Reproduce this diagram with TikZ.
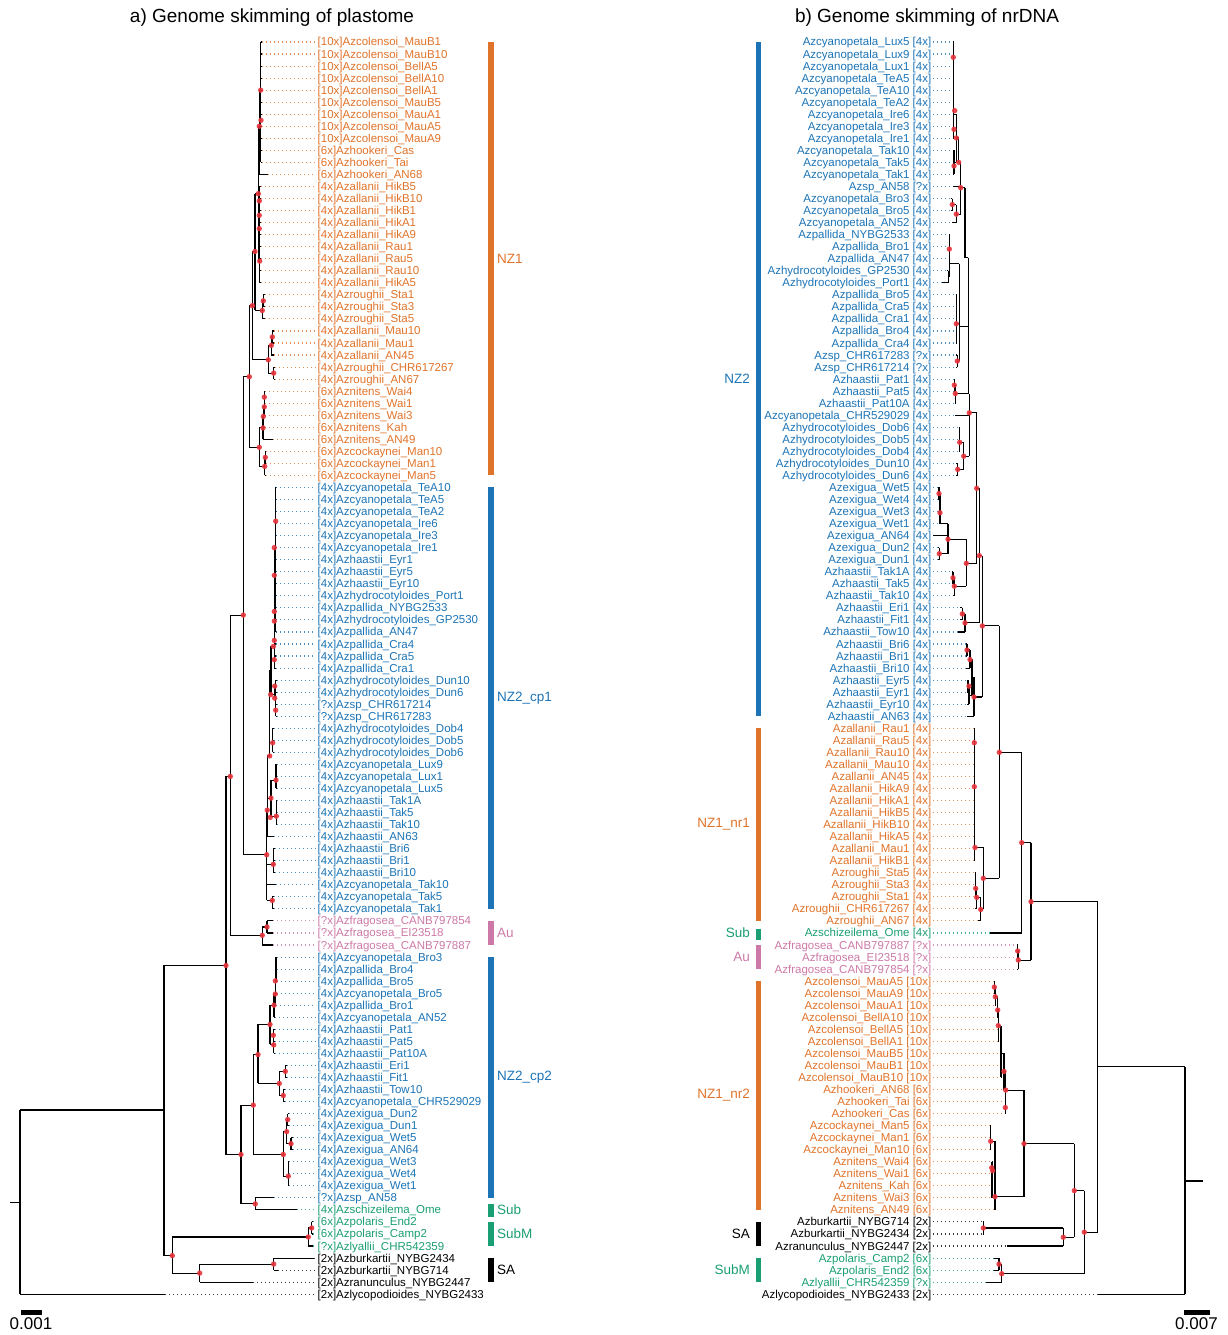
\documentclass[tikz,border=0pt]{standalone}
\usepackage{fontspec}
\setmainfont{Liberation Sans}
\definecolor{cO}{HTML}{E0732A}
\definecolor{cB}{HTML}{1C74B6}
\definecolor{cG}{HTML}{1A9E73}
\definecolor{cP}{HTML}{CC79A7}
\definecolor{cK}{HTML}{000000}
\definecolor{dotc}{HTML}{E8323A}
\tikzset{
  tr/.style={line width=1.1pt,black,line cap=square},
  lead/.style={line width=1.1pt,dash pattern=on 1.1pt off 2.9pt,draw opacity=0.8},
  lab/.style={inner sep=0pt,font=\fontsize{11.5}{12}\selectfont,text height=8.2pt,text depth=0.2pt},
  grp/.style={inner sep=0pt,font=\fontsize{13.5}{14}\selectfont},
  ttl/.style={inner sep=0pt,font=\fontsize{19}{21}\selectfont},
  scl/.style={inner sep=0pt,font=\fontsize{17}{19}\selectfont},
}
\newcommand\VL[3]{\draw[tr] (#1,#2) -- (#1,#3);}
\newcommand\HL[3]{\draw[tr] (#1,#3) -- (#2,#3);}
\newcommand\LLf[5]{\draw[tr] (#2,#1) -- (#3,#1); \draw[lead,draw=#5] (#3,#1) -- (316,#1); \node[lab,text=#5,anchor=west] (la#1) at (317.5,#1) {#4};}
\newcommand\RLf[5]{\draw[tr] (#2,#1) -- (#3,#1); \draw[lead,draw=#5] (933,#1) -- (#3,#1); \node[lab,text=#5,anchor=east] (ra#1) at (931.5,#1) {#4};}
\newcommand\BarL[5]{\fill[#4] (488,#1) rectangle (493.5,#2); \node[grp,text=#4,anchor=west] (gl#1) at (497,#3) {#5};}
\newcommand\BarR[5]{\fill[#4] (755.5,#1) rectangle (761,#2); \node[grp,text=#4,anchor=east] (gr#1) at (750,#3) {#5};}
\begin{document}
\begin{tikzpicture}[x=1pt,y=-12.04pt]
\useasboundingbox (0,-3.4884) rectangle (1227,107.392);
% titles
\node[ttl,anchor=base] (t1) at (272,-1.62) {a) Genome skimming of plastome};
\node[ttl,anchor=base] (t2) at (927,-1.62) {b) Genome skimming of nrDNA};
% ===================== LEFT TREE =====================
\HL{10}{20}{96.35}
\VL{20}{88.7}{104}
\HL{20}{164}{88.7}
\VL{164}{76.7}{100.8}
\HL{164}{226}{76.7}\HL{164}{172.3}{100.8}
\VL{226}{61}{92.4}
\HL{226}{230.3}{61}\HL{226}{241}{92.4}
\VL{230.3}{47.6}{74.2}
\HL{230.3}{243.3}{47.6}\HL{230.3}{262.3}{74.2}
\VL{243.3}{27.8}{67.5}
\HL{243.3}{249.3}{27.8}\HL{243.3}{266.7}{67.5}
\VL{249.3}{21.9}{33.66}
\HL{249.3}{252.3}{21.9}\HL{249.3}{259.3}{33.66}
\VL{252.3}{17.4}{26.4}
\HL{252.3}{255}{17.4}\HL{252.3}{268.3}{26.4}
\VL{255}{12.6}{22.3}
\HL{255}{258.3}{12.6}\HL{255}{262.3}{22.3}
\VL{258.3}{7}{18.2}
\HL{258.3}{259.3}{7}\HL{258.3}{259.5}{18.2}
\VL{259.3}{4}{11}\HL{259.3}{260.7}{4}
\VL{260.7}{0}{10}
\VL{259.5}{12}{20}
\VL{262.3}{21.5}{23}\HL{262.3}{263.3}{21.5}\VL{263.3}{21}{22}
\VL{268.3}{25.2}{27.5}\HL{268.3}{271.3}{25.2}\HL{268.3}{273.7}{27.5}
\VL{271.3}{24.5}{26}\HL{271.3}{272.3}{24.5}\VL{272.3}{24}{25}
\VL{273.7}{27}{28}
\VL{259.3}{32.05}{35.25}\HL{259.3}{263}{32.05}\HL{259.3}{264.7}{35.25}
\VL{263}{31.1}{33}\HL{263}{263.3}{31.1}
\VL{263.3}{30.3}{32}\HL{263.3}{264.3}{30.3}
\VL{264.3}{29}{31}
\VL{264.7}{34.5}{36}\HL{264.7}{265.3}{34.5}\VL{265.3}{34}{35}
% Au
\VL{262.3}{73.5}{75}\HL{262.3}{267}{73.5}\VL{267}{73}{74}
% NZ2_cp1
\VL{266.7}{63.8}{71.3}
\VL{275.7}{37}{49}
\VL{274.3}{42}{52}\HL{274.3}{275.7}{45.5}
\HL{271}{274.3}{50.2}
\VL{271}{50.2}{54.2}\HL{271}{274.7}{54.2}\VL{274.7}{53.5}{54.5}
\HL{274.7}{275.7}{53.5}\HL{274.7}{275.7}{54.5}
\VL{275.7}{53}{56}
\HL{269.7}{271}{52.2}\VL{269.7}{52.2}{59.3}
\HL{269.7}{272.7}{58.2}\VL{272.7}{57}{59}
\HL{267.3}{269.7}{59.3}\VL{267.3}{59.3}{66}
\HL{267.3}{271}{62.8}\VL{271}{61.3}{64.4}
\HL{271}{276}{61.3}\VL{276}{60}{62}
\HL{271}{276.3}{64.3}\VL{276.3}{63}{65}
\HL{266.7}{273.3}{68.3}\VL{273.3}{67}{69}
\HL{266.7}{272.3}{71.3}\VL{272.3}{71}{72}
% NZ2_cp2
\VL{241}{88.3}{96.5}\HL{241}{253.3}{88.3}\HL{241}{255.3}{96.5}
\VL{255.3}{96}{97}
\VL{253.3}{84.1}{92.4}\HL{253.3}{258}{84.1}\HL{253.3}{283.3}{92.4}
\VL{258}{81.6}{86.5}\HL{258}{270}{81.6}\HL{258}{279.3}{86.5}
\VL{270}{80}{83.25}\HL{270}{274}{80}\HL{270}{273.7}{83.25}
\VL{274}{79.07}{81}\HL{274}{275.3}{79.07}
\VL{275.3}{77}{80}\HL{275.3}{276}{77}\VL{276}{76}{78}
\VL{273.7}{82.5}{84}\VL{273.3}{82}{83}
\VL{279.3}{85.5}{87.5}\HL{279.3}{285.3}{85.5}\HL{279.3}{283.3}{87.5}
\VL{285.3}{85}{86}\VL{283.3}{87}{88}
\VL{283.3}{90.5}{94.25}\HL{283.3}{286.7}{90.5}\HL{283.3}{288.3}{94.25}
\VL{286.7}{89.5}{91.5}\HL{286.7}{287.7}{89.5}\HL{286.7}{291}{91.5}
\VL{287.7}{89}{90}\VL{291}{91}{92}\VL{288.3}{93}{95}
% SubM / SA
\VL{172.3}{99.25}{102.25}\HL{172.3}{308.3}{99.25}\HL{172.3}{199.7}{102.25}
\VL{308.3}{98.5}{100}\HL{308.3}{311.7}{98.5}\VL{311.7}{98}{99}
\VL{199.7}{101.5}{103}\HL{199.7}{273.7}{101.5}\VL{273.7}{101}{102}
% left leaves
\LLf{0}{260.7}{261.5}{[10x]Azcolensoi\_MauB1}{cO}
\LLf{1}{260.7}{261.5}{[10x]Azcolensoi\_MauB10}{cO}
\LLf{2}{260.7}{261.5}{[10x]Azcolensoi\_BellA5}{cO}
\LLf{3}{260.7}{261.5}{[10x]Azcolensoi\_BellA10}{cO}
\LLf{4}{260.7}{261.5}{[10x]Azcolensoi\_BellA1}{cO}
\LLf{5}{260.7}{261.5}{[10x]Azcolensoi\_MauB5}{cO}
\LLf{6}{260.7}{261.5}{[10x]Azcolensoi\_MauA1}{cO}
\LLf{7}{260.7}{261.5}{[10x]Azcolensoi\_MauA5}{cO}
\LLf{8}{260.7}{261.5}{[10x]Azcolensoi\_MauA9}{cO}
\LLf{9}{260.7}{261.5}{[6x]Azhookeri\_Cas}{cO}
\LLf{10}{260.7}{261.5}{[6x]Azhookeri\_Tai}{cO}
\LLf{11}{259.3}{268}{[6x]Azhookeri\_AN68}{cO}
\LLf{12}{259.5}{260.5}{[4x]Azallanii\_HikB5}{cO}
\LLf{13}{259.5}{260.5}{[4x]Azallanii\_HikB10}{cO}
\LLf{14}{259.5}{260.5}{[4x]Azallanii\_HikB1}{cO}
\LLf{15}{259.5}{260.5}{[4x]Azallanii\_HikA1}{cO}
\LLf{16}{259.5}{260.5}{[4x]Azallanii\_HikA9}{cO}
\LLf{17}{259.5}{260.5}{[4x]Azallanii\_Rau1}{cO}
\LLf{18}{259.5}{260.5}{[4x]Azallanii\_Rau5}{cO}
\LLf{19}{259.5}{260.5}{[4x]Azallanii\_Rau10}{cO}
\LLf{20}{259.5}{260.5}{[4x]Azallanii\_HikA5}{cO}
\LLf{21}{263.3}{264.5}{[4x]Azroughii\_Sta1}{cO}
\LLf{22}{263.3}{264.5}{[4x]Azroughii\_Sta3}{cO}
\LLf{23}{262.3}{264.5}{[4x]Azroughii\_Sta5}{cO}
\LLf{24}{272.3}{273.5}{[4x]Azallanii\_Mau10}{cO}
\LLf{25}{272.3}{273.5}{[4x]Azallanii\_Mau1}{cO}
\LLf{26}{271.3}{274}{[4x]Azallanii\_AN45}{cO}
\LLf{27}{273.7}{275}{[4x]Azroughii\_CHR617267}{cO}
\LLf{28}{273.7}{275}{[4x]Azroughii\_AN67}{cO}
\LLf{29}{264.3}{265}{[6x]Aznitens\_Wai4}{cO}
\LLf{30}{264.3}{265}{[6x]Aznitens\_Wai1}{cO}
\LLf{31}{264.3}{265}{[6x]Aznitens\_Wai3}{cO}
\LLf{32}{263.3}{265}{[6x]Aznitens\_Kah}{cO}
\LLf{33}{263}{272.7}{[6x]Aznitens\_AN49}{cO}
\LLf{34}{265.3}{266}{[6x]Azcockaynei\_Man10}{cO}
\LLf{35}{265.3}{266}{[6x]Azcockaynei\_Man1}{cO}
\LLf{36}{264.7}{266}{[6x]Azcockaynei\_Man5}{cO}
\LLf{37}{275.7}{276.3}{[4x]Azcyanopetala\_TeA10}{cB}
\LLf{38}{275.7}{276.3}{[4x]Azcyanopetala\_TeA5}{cB}
\LLf{39}{275.7}{276.3}{[4x]Azcyanopetala\_TeA2}{cB}
\LLf{40}{275.7}{276.3}{[4x]Azcyanopetala\_Ire6}{cB}
\LLf{41}{275.7}{276.3}{[4x]Azcyanopetala\_Ire3}{cB}
\LLf{42}{275.7}{276.3}{[4x]Azcyanopetala\_Ire1}{cB}
\LLf{43}{275.7}{276.3}{[4x]Azhaastii\_Eyr1}{cB}
\LLf{44}{275.7}{276.3}{[4x]Azhaastii\_Eyr5}{cB}
\LLf{45}{275.7}{276.3}{[4x]Azhaastii\_Eyr10}{cB}
\LLf{46}{275.7}{276.3}{[4x]Azhydrocotyloides\_Port1}{cB}
\LLf{47}{275.7}{276.3}{[4x]Azpallida\_NYBG2533}{cB}
\LLf{48}{275.7}{276.3}{[4x]Azhydrocotyloides\_GP2530}{cB}
\LLf{49}{275.7}{276.3}{[4x]Azpallida\_AN47}{cB}
\LLf{50}{274.3}{276.3}{[4x]Azpallida\_Cra4}{cB}
\LLf{51}{274.3}{276.3}{[4x]Azpallida\_Cra5}{cB}
\LLf{52}{274.3}{276.3}{[4x]Azpallida\_Cra1}{cB}
\LLf{53}{275.7}{276.5}{[4x]Azhydrocotyloides\_Dun10}{cB}
\LLf{54}{275.7}{276.5}{[4x]Azhydrocotyloides\_Dun6}{cB}
\LLf{55}{275.7}{276.5}{[?x]Azsp\_CHR617214}{cB}
\LLf{56}{275.7}{276.5}{[?x]Azsp\_CHR617283}{cB}
\LLf{57}{272.7}{273.5}{[4x]Azhydrocotyloides\_Dob4}{cB}
\LLf{58}{272.7}{273.5}{[4x]Azhydrocotyloides\_Dob5}{cB}
\LLf{59}{272.7}{273.5}{[4x]Azhydrocotyloides\_Dob6}{cB}
\LLf{60}{276}{277}{[4x]Azcyanopetala\_Lux9}{cB}
\LLf{61}{276}{277}{[4x]Azcyanopetala\_Lux1}{cB}
\LLf{62}{276}{277}{[4x]Azcyanopetala\_Lux5}{cB}
\LLf{63}{276.3}{277}{[4x]Azhaastii\_Tak1A}{cB}
\LLf{64}{276.3}{277}{[4x]Azhaastii\_Tak5}{cB}
\LLf{65}{276.3}{277}{[4x]Azhaastii\_Tak10}{cB}
\LLf{66}{267.3}{274}{[4x]Azhaastii\_AN63}{cB}
\LLf{67}{273.3}{275}{[4x]Azhaastii\_Bri6}{cB}
\LLf{68}{273.3}{275}{[4x]Azhaastii\_Bri1}{cB}
\LLf{69}{273.3}{275}{[4x]Azhaastii\_Bri10}{cB}
\LLf{70}{266.7}{276}{[4x]Azcyanopetala\_Tak10}{cB}
\LLf{71}{272.3}{274}{[4x]Azcyanopetala\_Tak5}{cB}
\LLf{72}{272.3}{274}{[4x]Azcyanopetala\_Tak1}{cB}
\LLf{73}{267}{273.3}{[?x]Azfragosea\_CANB797854}{cP}
\LLf{74}{267}{273.3}{[?x]Azfragosea\_EI23518}{cP}
\LLf{75}{262.3}{273.3}{[?x]Azfragosea\_CANB797887}{cP}
\LLf{76}{276}{277}{[4x]Azcyanopetala\_Bro3}{cB}
\LLf{77}{276}{277}{[4x]Azpallida\_Bro4}{cB}
\LLf{78}{276}{277}{[4x]Azpallida\_Bro5}{cB}
\LLf{79}{275.3}{276.5}{[4x]Azcyanopetala\_Bro5}{cB}
\LLf{80}{275.3}{276}{[4x]Azpallida\_Bro1}{cB}
\LLf{81}{274}{275}{[4x]Azcyanopetala\_AN52}{cB}
\LLf{82}{273.3}{274.5}{[4x]Azhaastii\_Pat1}{cB}
\LLf{83}{273.3}{274.5}{[4x]Azhaastii\_Pat5}{cB}
\LLf{84}{273.7}{274.5}{[4x]Azhaastii\_Pat10A}{cB}
\LLf{85}{285.3}{286.7}{[4x]Azhaastii\_Eri1}{cB}
\LLf{86}{285.3}{286.7}{[4x]Azhaastii\_Fit1}{cB}
\LLf{87}{283.3}{284.7}{[4x]Azhaastii\_Tow10}{cB}
\LLf{88}{283.3}{284.7}{[4x]Azcyanopetala\_CHR529029}{cB}
\LLf{89}{287.7}{289}{[4x]Azexigua\_Dun2}{cB}
\LLf{90}{287.7}{289}{[4x]Azexigua\_Dun1}{cB}
\LLf{91}{291}{292.5}{[4x]Azexigua\_Wet5}{cB}
\LLf{92}{291}{292.5}{[4x]Azexigua\_AN64}{cB}
\LLf{93}{288.3}{289}{[4x]Azexigua\_Wet3}{cB}
\LLf{94}{288.3}{289}{[4x]Azexigua\_Wet4}{cB}
\LLf{95}{288.3}{289}{[4x]Azexigua\_Wet1}{cB}
\LLf{96}{255.3}{274}{[?x]Azsp\_AN58}{cB}
\LLf{97}{255.3}{296.7}{[4x]Azschizeilema\_Ome}{cG}
\LLf{98}{311.7}{313.3}{[6x]Azpolaris\_End2}{cG}
\LLf{99}{311.7}{313.3}{[6x]Azpolaris\_Camp2}{cG}
\LLf{100}{308.3}{313.3}{[?x]Azlyallii\_CHR542359}{cG}
\LLf{101}{273.7}{314}{[2x]Azburkartii\_NYBG2434}{cK}
\LLf{102}{273.7}{278.3}{[2x]Azburkartii\_NYBG714}{cK}
\LLf{103}{199.7}{253.3}{[2x]Azranunculus\_NYBG2447}{cK}
\LLf{104}{20}{165}{[2x]Azlycopodioides\_NYBG2433}{cK}
% left bars
\BarL{0}{36}{18}{cO}{NZ1}
\BarL{37}{72}{54.5}{cB}{NZ2\_cp1}
\BarL{73}{75}{74}{cP}{Au}
\BarL{76}{96}{86}{cB}{NZ2\_cp2}
\BarL{96.5}{97.6}{97}{cG}{Sub}
\BarL{98}{100}{99}{cG}{SubM}
\BarL{101}{103}{102}{cK}{SA}
% ===================== RIGHT TREE =====================
\VL{953.3}{0}{8}
\HL{953.3}{956.3}{6}\VL{956.3}{6}{10}\HL{954}{956.3}{10}\VL{954}{9}{11}
\HL{956.3}{958.7}{7.97}\VL{958.7}{7.97}{10}\HL{958.7}{960.7}{10}
\VL{960.7}{10}{14.3}\HL{956.3}{960.7}{14.3}
\VL{956.3}{13.5}{15}\HL{952.3}{956.3}{13.5}\VL{952.3}{13}{14}
\HL{960.7}{965}{12.1}\VL{965}{12.1}{17.9}\HL{965}{968.3}{17.9}
\VL{949.3}{16}{19.5}\HL{948.3}{949.3}{19.5}\VL{948.3}{19}{20}\HL{949.3}{959.3}{18.4}
\VL{959.3}{18.4}{26.5}\HL{956.3}{959.3}{23.4}\VL{956.3}{21}{25}
\HL{957.3}{959.3}{26.5}\VL{957.3}{26}{27}\HL{959.3}{968.3}{23.6}
\VL{954.3}{28}{29}\HL{954.3}{955.3}{28.5}\VL{955.3}{28.5}{30}\HL{955.3}{968.3}{29.2}
\VL{968.3}{17.9}{29.2}\VL{969.3}{29.2}{34.4}\HL{968.3}{969.3}{29.2}
\HL{969.3}{976.7}{30.8}
\VL{959.7}{32}{34}\VL{957.7}{35}{36}\VL{963.7}{33.25}{35.5}
\HL{959.7}{963.7}{33.25}\HL{957.7}{963.7}{35.5}\HL{963.7}{969.3}{34.4}
\VL{976.7}{30.8}{43.3}\HL{966.3}{976.7}{43.3}
\VL{966.3}{41.3}{45.2}\HL{948}{966.3}{41.3}\HL{954.3}{966.3}{45.2}
\VL{939}{37}{38}\VL{940}{37.5}{40}\HL{939}{940}{37.5}\HL{940}{948}{40}
\VL{948}{40}{42.5}\HL{939.3}{948}{42.5}\VL{939.3}{42}{43}
\VL{953}{44}{45}\HL{953}{954.3}{44.5}\VL{954.3}{44.5}{46}
\HL{976.7}{979.3}{37.07}\VL{979.3}{37.07}{48.25}\HL{965}{979.3}{48.25}
\VL{965}{47.5}{49}\HL{962.3}{965}{47.5}\VL{962.3}{47}{48}
\HL{979.3}{982.3}{42.66}\VL{982.3}{42.66}{54.4}\HL{974}{982.3}{54.4}\HL{982.3}{999.3}{48.5}
\VL{974}{52.75}{56}\HL{972}{974}{52.75}\VL{972}{51.25}{54.25}
\HL{970}{972}{51.25}\VL{970}{50.5}{52}\HL{967}{970}{50.5}\VL{967}{50}{51}
\HL{969}{972}{54.25}\VL{969}{53.5}{55}\HL{968}{969}{53.5}\VL{968}{53}{54}
\VL{999.3}{48.5}{69.46}\HL{999.3}{1021.7}{59}\HL{983.3}{999.3}{69.46}
\VL{983.3}{66.9}{72.05}\HL{974.3}{983.3}{66.9}\VL{974.3}{57}{68}
\HL{980.7}{983.3}{72.05}\VL{980.7}{71.05}{73}\HL{976.7}{980.7}{71.05}
\VL{976.7}{70.3}{72}\HL{975.7}{976.7}{70.3}\VL{975.7}{69}{71}
\VL{1021.7}{59}{74}\HL{1021.7}{1031}{66.5}
\VL{1031}{66.5}{76.25}\HL{1018.3}{1031}{76.25}
\VL{1018.3}{75.5}{77}\HL{1017.7}{1018.3}{75.5}\VL{1017.7}{75}{76}
\HL{1031}{1097.7}{71.4}\VL{1097.7}{71.4}{98.85}\HL{1097.7}{1185}{85.1}
\VL{1185}{85.1}{104}\HL{1185}{1202.7}{94.6}
\HL{1084.3}{1097.7}{98.85}\VL{1084.3}{95.4}{102.3}
\HL{1074.3}{1084.3}{95.4}\HL{1001.7}{1084.3}{102.3}
\VL{1001.7}{101.5}{103}\HL{999}{1001.7}{101.5}\VL{999}{101}{102}
\VL{1074.3}{91.5}{99.27}\HL{1024}{1074.3}{91.5}\HL{1063.3}{1074.3}{99.27}
\VL{1063.3}{98.5}{100}\HL{983.3}{1063.3}{98.5}\VL{983.3}{98}{99}
\VL{1024}{87.05}{95.9}\HL{1005.7}{1024}{87.05}\HL{995}{1024}{95.9}
\VL{995}{91.3}{97}\HL{990.7}{995}{91.3}\VL{990.7}{90}{92}
\HL{992}{995}{93.75}\VL{992}{93}{96}
\VL{1005.7}{85.5}{88.5}\HL{1004}{1005.7}{85.5}\HL{1005.3}{1005.7}{88.5}\VL{1005.3}{88}{89}
\VL{1004}{84}{87}\HL{1001}{1004}{84}\VL{1001}{81.7}{86}
\HL{998.3}{1001}{81.7}\VL{998.3}{80.4}{83}
\HL{997.7}{998.3}{80.4}\VL{997.7}{79.3}{81}
\HL{995.3}{997.7}{79.3}\VL{995.3}{78.5}{80}
\HL{994.3}{995.3}{78.5}\VL{994.3}{78}{79}
% right leaves
\RLf{0}{953.3}{952.5}{Azcyanopetala\_Lux5 [4x]}{cB}
\RLf{1}{953.3}{952.5}{Azcyanopetala\_Lux9 [4x]}{cB}
\RLf{2}{953.3}{952.5}{Azcyanopetala\_Lux1 [4x]}{cB}
\RLf{3}{953.3}{952.5}{Azcyanopetala\_TeA5 [4x]}{cB}
\RLf{4}{953.3}{952.5}{Azcyanopetala\_TeA10 [4x]}{cB}
\RLf{5}{953.3}{952.5}{Azcyanopetala\_TeA2 [4x]}{cB}
\RLf{6}{953.3}{952.5}{Azcyanopetala\_Ire6 [4x]}{cB}
\RLf{7}{953.3}{952.5}{Azcyanopetala\_Ire3 [4x]}{cB}
\RLf{8}{953.3}{952.5}{Azcyanopetala\_Ire1 [4x]}{cB}
\RLf{9}{954}{952.5}{Azcyanopetala\_Tak10 [4x]}{cB}
\RLf{10}{954}{952.5}{Azcyanopetala\_Tak5 [4x]}{cB}
\RLf{11}{954}{952.5}{Azcyanopetala\_Tak1 [4x]}{cB}
\RLf{12}{960.7}{953}{Azsp\_AN58 [?x]}{cB}
\RLf{13}{952.3}{950.5}{Azcyanopetala\_Bro3 [4x]}{cB}
\RLf{14}{952.3}{950.5}{Azcyanopetala\_Bro5 [4x]}{cB}
\RLf{15}{956.3}{951.7}{Azcyanopetala\_AN52 [4x]}{cB}
\RLf{16}{949.3}{948.5}{Azpallida\_NYBG2533 [4x]}{cB}
\RLf{17}{949.3}{948.5}{Azpallida\_Bro1 [4x]}{cB}
\RLf{18}{949.3}{948.5}{Azpallida\_AN47 [4x]}{cB}
\RLf{19}{948.3}{947}{Azhydrocotyloides\_GP2530 [4x]}{cB}
\RLf{20}{948.3}{941.7}{Azhydrocotyloides\_Port1 [4x]}{cB}
\RLf{21}{956.3}{955.5}{Azpallida\_Bro5 [4x]}{cB}
\RLf{22}{956.3}{955.5}{Azpallida\_Cra5 [4x]}{cB}
\RLf{23}{956.3}{955.5}{Azpallida\_Cra1 [4x]}{cB}
\RLf{24}{956.3}{955.5}{Azpallida\_Bro4 [4x]}{cB}
\RLf{25}{956.3}{955.5}{Azpallida\_Cra4 [4x]}{cB}
\RLf{26}{957.3}{956}{Azsp\_CHR617283 [?x]}{cB}
\RLf{27}{957.3}{956}{Azsp\_CHR617214 [?x]}{cB}
\RLf{28}{954.3}{953.5}{Azhaastii\_Pat1 [4x]}{cB}
\RLf{29}{954.3}{953.5}{Azhaastii\_Pat5 [4x]}{cB}
\RLf{30}{955.3}{954.5}{Azhaastii\_Pat10A [4x]}{cB}
\RLf{31}{969.3}{955}{Azcyanopetala\_CHR529029 [4x]}{cB}
\RLf{32}{959.7}{958.5}{Azhydrocotyloides\_Dob6 [4x]}{cB}
\RLf{33}{959.7}{958.5}{Azhydrocotyloides\_Dob5 [4x]}{cB}
\RLf{34}{959.7}{958.5}{Azhydrocotyloides\_Dob4 [4x]}{cB}
\RLf{35}{957.7}{956}{Azhydrocotyloides\_Dun10 [4x]}{cB}
\RLf{36}{957.7}{956}{Azhydrocotyloides\_Dun6 [4x]}{cB}
\RLf{37}{939}{938}{Azexigua\_Wet5 [4x]}{cB}
\RLf{38}{939}{938}{Azexigua\_Wet4 [4x]}{cB}
\RLf{39}{940}{938.5}{Azexigua\_Wet3 [4x]}{cB}
\RLf{40}{940}{938.5}{Azexigua\_Wet1 [4x]}{cB}
\RLf{41}{948}{933}{Azexigua\_AN64 [4x]}{cB}
\RLf{42}{939.3}{938}{Azexigua\_Dun2 [4x]}{cB}
\RLf{43}{939.3}{938}{Azexigua\_Dun1 [4x]}{cB}
\RLf{44}{953}{952}{Azhaastii\_Tak1A [4x]}{cB}
\RLf{45}{953}{952}{Azhaastii\_Tak5 [4x]}{cB}
\RLf{46}{954.3}{953}{Azhaastii\_Tak10 [4x]}{cB}
\RLf{47}{962.3}{960}{Azhaastii\_Eri1 [4x]}{cB}
\RLf{48}{962.3}{960}{Azhaastii\_Fit1 [4x]}{cB}
\RLf{49}{965}{958.3}{Azhaastii\_Tow10 [4x]}{cB}
\RLf{50}{967}{966}{Azhaastii\_Bri6 [4x]}{cB}
\RLf{51}{967}{966}{Azhaastii\_Bri1 [4x]}{cB}
\RLf{52}{970}{966}{Azhaastii\_Bri10 [4x]}{cB}
\RLf{53}{968}{967}{Azhaastii\_Eyr5 [4x]}{cB}
\RLf{54}{968}{967}{Azhaastii\_Eyr1 [4x]}{cB}
\RLf{55}{969}{967}{Azhaastii\_Eyr10 [4x]}{cB}
\RLf{56}{974}{966.7}{Azhaastii\_AN63 [4x]}{cB}
\RLf{57}{974.3}{973.5}{Azallanii\_Rau1 [4x]}{cO}
\RLf{58}{974.3}{973.5}{Azallanii\_Rau5 [4x]}{cO}
\RLf{59}{974.3}{973.5}{Azallanii\_Rau10 [4x]}{cO}
\RLf{60}{974.3}{973.5}{Azallanii\_Mau10 [4x]}{cO}
\RLf{61}{974.3}{973.5}{Azallanii\_AN45 [4x]}{cO}
\RLf{62}{974.3}{973.5}{Azallanii\_HikA9 [4x]}{cO}
\RLf{63}{974.3}{973.5}{Azallanii\_HikA1 [4x]}{cO}
\RLf{64}{974.3}{973.5}{Azallanii\_HikB5 [4x]}{cO}
\RLf{65}{974.3}{973.5}{Azallanii\_HikB10 [4x]}{cO}
\RLf{66}{974.3}{973.5}{Azallanii\_HikA5 [4x]}{cO}
\RLf{67}{974.3}{973.5}{Azallanii\_Mau1 [4x]}{cO}
\RLf{68}{974.3}{973.5}{Azallanii\_HikB1 [4x]}{cO}
\RLf{69}{975.7}{975}{Azroughii\_Sta5 [4x]}{cO}
\RLf{70}{975.7}{975}{Azroughii\_Sta3 [4x]}{cO}
\RLf{71}{975.7}{975}{Azroughii\_Sta1 [4x]}{cO}
\RLf{72}{976.7}{975}{Azroughii\_CHR617267 [4x]}{cO}
\RLf{73}{980.7}{978.3}{Azroughii\_AN67 [4x]}{cO}
\RLf{74}{1021.7}{990}{Azschizeilema\_Ome [4x]}{cG}
\RLf{75}{1017.7}{1016.7}{Azfragosea\_CANB797887 [?x]}{cP}
\RLf{76}{1017.7}{1016.7}{Azfragosea\_EI23518 [?x]}{cP}
\RLf{77}{1018.3}{1016.7}{Azfragosea\_CANB797854 [?x]}{cP}
\RLf{78}{994.3}{993.5}{Azcolensoi\_MauA5 [10x]}{cO}
\RLf{79}{994.3}{993.5}{Azcolensoi\_MauA9 [10x]}{cO}
\RLf{80}{995.3}{994.5}{Azcolensoi\_MauA1 [10x]}{cO}
\RLf{81}{997.7}{997}{Azcolensoi\_BellA10 [10x]}{cO}
\RLf{82}{998.3}{997.5}{Azcolensoi\_BellA5 [10x]}{cO}
\RLf{83}{998.3}{997.5}{Azcolensoi\_BellA1 [10x]}{cO}
\RLf{84}{1001}{1000.5}{Azcolensoi\_MauB5 [10x]}{cO}
\RLf{85}{1001}{1000.5}{Azcolensoi\_MauB1 [10x]}{cO}
\RLf{86}{1001}{1000.5}{Azcolensoi\_MauB10 [10x]}{cO}
\RLf{87}{1004}{1003}{Azhookeri\_AN68 [6x]}{cO}
\RLf{88}{1005.3}{1004.5}{Azhookeri\_Tai [6x]}{cO}
\RLf{89}{1005.3}{1004.5}{Azhookeri\_Cas [6x]}{cO}
\RLf{90}{990.7}{990}{Azcockaynei\_Man5 [6x]}{cO}
\RLf{91}{990.7}{990}{Azcockaynei\_Man1 [6x]}{cO}
\RLf{92}{990.7}{990}{Azcockaynei\_Man10 [6x]}{cO}
\RLf{93}{992}{991.5}{Aznitens\_Wai4 [6x]}{cO}
\RLf{94}{992}{991.5}{Aznitens\_Wai1 [6x]}{cO}
\RLf{95}{992}{991.5}{Aznitens\_Kah [6x]}{cO}
\RLf{96}{992}{991.5}{Aznitens\_Wai3 [6x]}{cO}
\RLf{97}{995}{994}{Aznitens\_AN49 [6x]}{cO}
\RLf{98}{983.3}{982.5}{Azburkartii\_NYBG714 [2x]}{cK}
\RLf{99}{983.3}{982.5}{Azburkartii\_NYBG2434 [2x]}{cK}
\RLf{100}{1063.3}{1006.7}{Azranunculus\_NYBG2447 [2x]}{cK}
\RLf{101}{999}{993.3}{Azpolaris\_Camp2 [6x]}{cG}
\RLf{102}{999}{993.3}{Azpolaris\_End2 [6x]}{cG}
\RLf{103}{1001.7}{986}{Azlyallii\_CHR542359 [?x]}{cG}
\RLf{104}{1185}{1097.7}{Azlycopodioides\_NYBG2433 [2x]}{cK}
% right bars
\BarR{0}{56}{28}{cB}{NZ2}
\BarR{57}{73}{65}{cO}{NZ1\_nr1}
\BarR{73.7}{74.6}{74}{cG}{Sub}
\BarR{75}{77}{76}{cP}{Au}
\BarR{78}{97}{87.5}{cO}{NZ1\_nr2}
\BarR{98}{100}{99}{cK}{SA}
\BarR{101}{103}{102}{cG}{SubM}
% red node dots
\foreach \a/\b in {260.7/4.0,261/6.5,259.3/7.0,258.3/12.6,259.3/13.2,259.3/14.4,259.3/15.5,255/17.4,259.7/18.2,252.3/21.9,263.3/21.5,262.3/22.3,272.3/24.5,271.3/25.2,268.3/26.4,273.7/27.5,249.3/27.8,264.3/29.5,264.3/30.3,263.3/31.1,263/32.05,259.3/33.66,265.3/34.5,264.7/35.25,243.3/47.6,230.3/61,226/76.7,
275.7/39.8,274.3/42.0,274.3/44.3,274.3/47.3,274.3/48.1,274.3/49.7,273.3/50.2,274.3/51.3,274.7/53.5,270.7/54.2,274.7/54.5,275.7/55.5,272.7/58.2,269.7/59.3,276/61.3,271/62.8,267.3/63.8,270.3/64.4,276.3/64.3,266.7/67.5,273.3/68.3,272.3/71.3,
262.3/74.2,267/73.5,275.3/77.98,275.3/79.07,274/80.0,270/81.6,273.3/82.5,273.7/83.3,258/84.1,285.3/85.5,279.3/86.5,283.3/87.5,253.3/88.3,287.7/89.5,286.7/90.5,291/91.5,241/92.4,283.3/92.4,288.3/94.2,255.3/96.5,311.7/98.5,308.3/99.25,172.3/100.8,273.7/101.5,199.7/102.25,
953.3/1.27,954.7/5.7,954/7.25,956.3/7.97,958.7/10.0,954/10.3,960.7/12.1,952.3/13.5,956.3/14.3,949.3/17.2,956.3/23.4,957.3/26.5,954.3/28.5,955.3/29.2,969.3/30.8,959.7/33.25,963.7/34.4,957.7/35.5,976.7/37.07,939/37.5,940/39.1,948/41.3,939.3/42.5,979.3/42.66,966.3/43.3,953/44.5,954.3/45.2,962.3/47.5,965/48.25,982.3/48.5,967/50.5,970/51.3,969/53.5,974/54.4,974.3/58.2,999.3/59,974.3/61.85,1021.7/66.5,975/66.9,983.3/69.46,975.7/70.3,976.7/71.05,1031/71.4,980.7/72.05,1017.7/75.5,1018.3/76.25,994.3/78.5,995.3/79.3,997.7/80.4,998.3/81.7,1004/85.5,1005.7/87.05,1005.3/88.5,990.7/91.3,1024/91.5,991.7/93.5,992.7/93.75,1074.3/95.4,995/95.9,983.3/98.5,1084.3/98.85,1063.3/99.27,999/101.5,1001.7/102.3}
  {\fill[dotc,opacity=0.9] (\a,\b) circle (2.7pt);}
% scale bars
\draw[line width=4.5pt] (21,105.53) -- (42,105.53);
\node[scl,anchor=base] (s1) at (31,106.96) {0.001};
\draw[line width=4.5pt] (1184,105.53) -- (1210,105.53);
\node[scl,anchor=base] (s2) at (1196.5,106.96) {0.007};
\end{tikzpicture}
\end{document}
